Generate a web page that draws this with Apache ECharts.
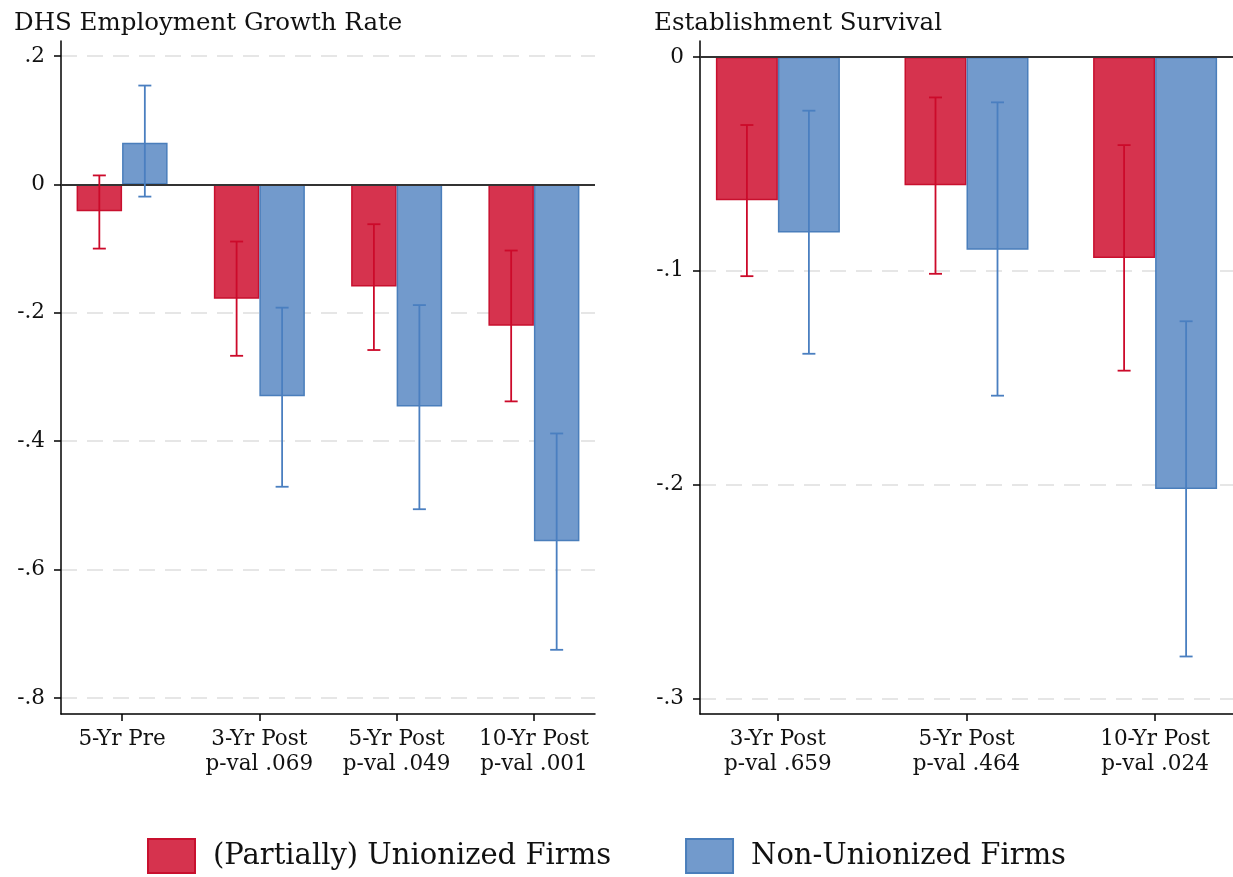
<!DOCTYPE html>
<html>
<head>
<meta charset="utf-8">
<script src="https://cdn.jsdelivr.net/npm/echarts@6/dist/echarts.min.js"></script>
<style>html,body{margin:0;padding:0;background:#fff;}#c{width:1233px;height:877px;}</style>
</head>
<body>
<div id="c"></div>
<script>
// ---- Data ----
const titleLeft = 'DHS Employment Growth Rate';
const titleRight = 'Establishment Survival';
const seriesNames = ['(Partially) Unionized Firms', 'Non-Unionized Firms'];

const catsLeft = ['5-Yr Pre', '3-Yr Post\np-val .069', '5-Yr Post\np-val .049', '10-Yr Post\np-val .001'];
const posLeft = [1, 2, 3, 4];
const unionEmp   = [-0.042, -0.178, -0.159, -0.220];
const unionEmpLo = [-0.100, -0.267, -0.258, -0.338];
const unionEmpHi = [ 0.014, -0.089, -0.062, -0.103];
const nonEmp     = [ 0.065, -0.330, -0.346, -0.556];
const nonEmpLo   = [-0.019, -0.471, -0.506, -0.725];
const nonEmpHi   = [ 0.154, -0.192, -0.188, -0.388];
const yTicksLeft = [0.2, 0, -0.2, -0.4, -0.6, -0.8];

const catsRight = ['3-Yr Post\np-val .659', '5-Yr Post\np-val .464', '10-Yr Post\np-val .024'];
const posRight = [1, 2, 3];
const unionSurv   = [-0.0670, -0.0600, -0.0940];
const unionSurvLo = [-0.1025, -0.1014, -0.1467];
const unionSurvHi = [-0.0318, -0.0189, -0.0412];
const nonSurv     = [-0.0821, -0.0902, -0.2020];
const nonSurvLo   = [-0.1388, -0.1584, -0.2804];
const nonSurvHi   = [-0.0251, -0.0212, -0.1236];
const yTicksRight = [0, -0.1, -0.2, -0.3];

// ---- Styles ----
const FONT = 'DejaVu Serif';
const RED_FILL = '#d6334e', RED_EDGE = '#c8102e', RED_ERR = '#cc0a2a';
const BLUE_FILL = '#729acc', BLUE_EDGE = '#4a7ebb', BLUE_ERR = '#4a7fc0';
const BAR_W_LEFT = 45.5, BAR_W_RIGHT = 62, CAP = 13;

function fmtY(v) {
  if (Math.abs(v) < 1e-9) return '0';
  return String(+v.toFixed(3)).replace(/^(-?)0\./, '$1.');
}

function pairs(xs, ys) { return xs.map((x, i) => [x, ys[i]]); }
function triples(xs, lo, hi) { return xs.map((x, i) => [x, lo[i], hi[i]]); }

function errRender(side, barW, color) {
  return function (params, api) {
    const x = api.value(0);
    const a = api.coord([x, api.value(1)]);
    const b = api.coord([x, api.value(2)]);
    const cx = a[0] + side * barW / 2;
    const st = { stroke: color, lineWidth: 1.8 };
    return {
      type: 'group',
      children: [
        { type: 'line', shape: { x1: cx, y1: a[1], x2: cx, y2: b[1] }, style: st },
        { type: 'line', shape: { x1: cx - CAP / 2, y1: a[1], x2: cx + CAP / 2, y2: a[1] }, style: st },
        { type: 'line', shape: { x1: cx - CAP / 2, y1: b[1], x2: cx + CAP / 2, y2: b[1] }, style: st }
      ]
    };
  };
}

function xAxisCfg(gridIndex, min, max, pos, cats) {
  return {
    type: 'value', gridIndex, min, max,
    axisLine: { show: true, onZero: false, lineStyle: { color: '#000', width: 1.5 } },
    axisTick: { show: true, length: 7, customValues: pos, lineStyle: { color: '#000', width: 1.5 } },
    axisLabel: {
      customValues: pos, margin: 13, fontFamily: FONT, fontSize: 21.5, color: '#111', lineHeight: 25,
      formatter: v => cats[pos.indexOf(Math.round(v))] || ''
    },
    splitLine: { show: false }
  };
}
function yAxisCfg(gridIndex, min, max, ticks) {
  return {
    type: 'value', gridIndex, min, max,
    axisLine: { show: true, onZero: false, lineStyle: { color: '#000', width: 1.5 } },
    axisTick: { show: true, length: 7, customValues: ticks, lineStyle: { color: '#000', width: 1.5 } },
    axisLabel: { customValues: ticks, margin: 16, fontFamily: FONT, fontSize: 21.5, color: '#111', formatter: fmtY },
    splitLine: { show: true, lineStyle: { color: '#dedede', width: 1.5, type: [16, 10] } }
  };
}

function barSeries(name, xi, data, barW, fill, edge, withZero) {
  const s = {
    name, type: 'bar', xAxisIndex: xi, yAxisIndex: xi,
    data, barWidth: barW, barGap: '0%',
    itemStyle: { color: fill, borderColor: edge, borderWidth: 1.5 },
    emphasis: { disabled: true },
    z: 2
  };
  if (withZero) {
    s.markLine = {
      silent: true, symbol: 'none', label: { show: false },
      lineStyle: { color: '#333', width: 1.8, type: 'solid' },
      data: [{ yAxis: 0 }], z: 5
    };
  }
  return s;
}
function errSeries(name, xi, data, side, barW, color) {
  return {
    name, type: 'custom', xAxisIndex: xi, yAxisIndex: xi,
    data, renderItem: errRender(side, barW, color),
    encode: { x: 0, y: [1, 2] }, z: 6, silent: true
  };
}

const option = {
  animation: false,
  backgroundColor: '#fff',
  title: [
    { text: titleLeft, left: 9, top: 6, textStyle: { fontFamily: FONT, fontSize: 24.5, fontWeight: 'normal', color: '#111' } },
    { text: titleRight, left: 649, top: 6, textStyle: { fontFamily: FONT, fontSize: 24.5, fontWeight: 'normal', color: '#111' } }
  ],
  legend: {
    data: seriesNames, left: 142, top: 833,
    itemWidth: 47, itemHeight: 34, itemGap: 74,
    icon: 'rect',
    textStyle: { fontFamily: FONT, fontSize: 29, color: '#111', padding: [0, 0, 0, 13] }
  },
  grid: [
    { left: 61, top: 41, width: 534, height: 673 },
    { left: 700, top: 41, width: 533, height: 673 }
  ],
  xAxis: [
    xAxisCfg(0, 0.555, 4.445, posLeft, catsLeft),
    xAxisCfg(1, 0.587, 3.413, posRight, catsRight)
  ],
  yAxis: [
    yAxisCfg(0, -0.825, 0.2234, yTicksLeft),
    yAxisCfg(1, -0.3073, 0.0075, yTicksRight)
  ],
  series: [
    barSeries(seriesNames[0], 0, pairs(posLeft, unionEmp), BAR_W_LEFT, RED_FILL, RED_EDGE, true),
    barSeries(seriesNames[1], 0, pairs(posLeft, nonEmp), BAR_W_LEFT, BLUE_FILL, BLUE_EDGE, false),
    errSeries(seriesNames[0], 0, triples(posLeft, unionEmpLo, unionEmpHi), -1, BAR_W_LEFT, RED_ERR),
    errSeries(seriesNames[1], 0, triples(posLeft, nonEmpLo, nonEmpHi), 1, BAR_W_LEFT, BLUE_ERR),
    barSeries(seriesNames[0], 1, pairs(posRight, unionSurv), BAR_W_RIGHT, RED_FILL, RED_EDGE, true),
    barSeries(seriesNames[1], 1, pairs(posRight, nonSurv), BAR_W_RIGHT, BLUE_FILL, BLUE_EDGE, false),
    errSeries(seriesNames[0], 1, triples(posRight, unionSurvLo, unionSurvHi), -1, BAR_W_RIGHT, RED_ERR),
    errSeries(seriesNames[1], 1, triples(posRight, nonSurvLo, nonSurvHi), 1, BAR_W_RIGHT, BLUE_ERR)
  ]
};

const chart = echarts.init(document.getElementById('c'), null, { renderer: 'canvas' });
chart.setOption(option);
</script>
</body>
</html>
